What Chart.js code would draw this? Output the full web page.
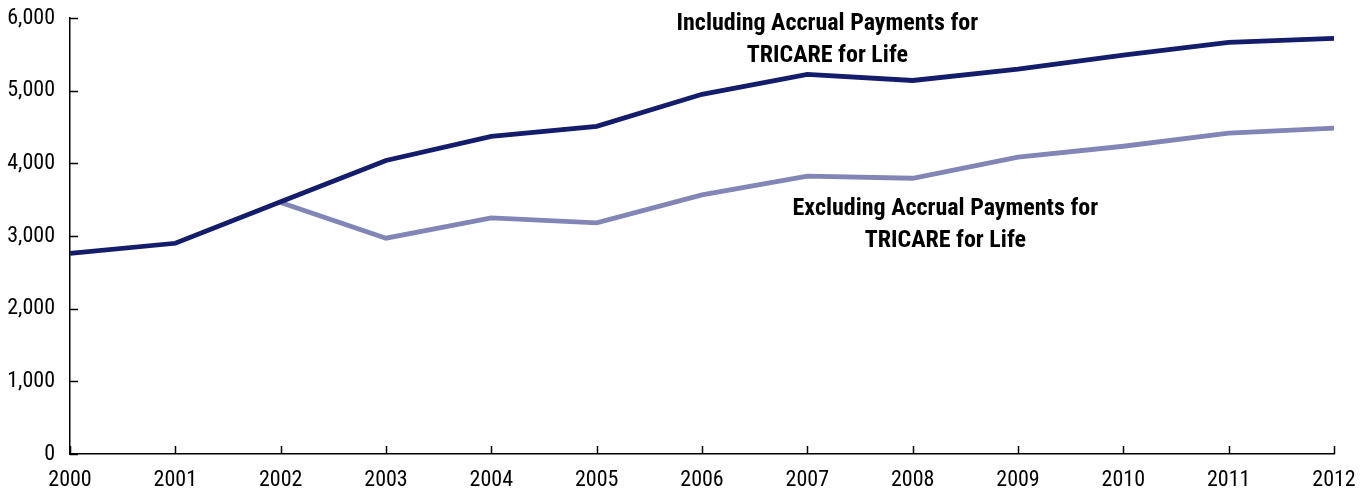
<!DOCTYPE html>
<html>
<head>
<meta charset="utf-8">
<script src="https://cdn.jsdelivr.net/npm/chart.js@4"></script>
<style>
html,body{margin:0;padding:0;background:#fff;}
#wrap{width:1369px;height:490px;position:relative;}
</style>
</head>
<body>
<div id="wrap"><canvas id="c"></canvas></div>
<script>
const years = ['2000','2001','2002','2003','2004','2005','2006','2007','2008','2009','2010','2011','2012'];
const including = [2760, 2900, 3470, 4040, 4370, 4510, 4950, 5225, 5140, 5295, 5490, 5665, 5720];
const excluding = [null, null, 3460, 2970, 3250, 3180, 3565, 3825, 3795, 4085, 4235, 4415, 4485];
const yTicks = [0, 1000, 2000, 3000, 4000, 5000, 6000];
const labelIncluding = ['Including Accrual Payments for', 'TRICARE for Life'];
const labelExcluding = ['Excluding Accrual Payments for', 'TRICARE for Life'];

const FONT = "'Roboto Condensed', 'DejaVu Sans Condensed', sans-serif";

const annot = {
  id: 'annot',
  afterDraw(chart) {
    const {ctx, scales: {x, y}} = chart;
    ctx.save();
    ctx.strokeStyle = '#000';
    ctx.lineWidth = 1.5;
    yTicks.forEach(v => {
      const py = Math.round(y.getPixelForValue(v)) + 0.5;
      ctx.beginPath(); ctx.moveTo(x.left, py); ctx.lineTo(x.left + 8, py); ctx.stroke();
    });
    years.forEach((yr, i) => {
      const px = Math.round(x.getPixelForValue(i)) + 0.5;
      ctx.beginPath(); ctx.moveTo(px, y.bottom); ctx.lineTo(px, y.bottom - 8); ctx.stroke();
    });
    ctx.fillStyle = '#000';
    ctx.font = "bold 24px " + FONT;
    ctx.textAlign = 'center';
    ctx.textBaseline = 'middle';
    const cx1 = x.getPixelForValue(7.19);
    ctx.fillText(labelIncluding[0], cx1, y.getPixelForValue(5915));
    ctx.fillText(labelIncluding[1], cx1, y.getPixelForValue(5475));
    const cx2 = x.getPixelForValue(8.31);
    ctx.fillText(labelExcluding[0], cx2, y.getPixelForValue(3370));
    ctx.fillText(labelExcluding[1], cx2, y.getPixelForValue(2930));
    ctx.restore();
  }
};

new Chart(document.getElementById('c'), {
  type: 'line',
  data: {
    labels: years,
    datasets: [
      { label: 'Excluding', data: excluding, borderColor: '#8186b6', borderWidth: 4.8, pointRadius: 0, tension: 0, order: 2 },
      { label: 'Including', data: including, borderColor: '#141c6c', borderWidth: 4.8, pointRadius: 0, tension: 0, order: 1 }
    ]
  },
  options: {
    responsive: true,
    maintainAspectRatio: false,
    animation: false,
    layout: { padding: { left: 0, right: 35, top: 18, bottom: 0 } },
    plugins: { legend: { display: false }, tooltip: { enabled: false } },
    scales: {
      x: {
        type: 'category',
        offset: false,
        grid: { display: false, drawTicks: false },
        border: { display: true, color: '#000', width: 1.5 },
        ticks: { color: '#000', font: { family: FONT, size: 22 }, padding: 13, maxRotation: 0, autoSkip: false },
        afterFit(s) { s.height = 36; s.paddingLeft = 0; s.paddingRight = 0; }
      },
      y: {
        min: 0, max: 6000,
        afterBuildTicks(s) { s.ticks = yTicks.map(v => ({ value: v })); },
        grid: { display: false, drawTicks: false },
        border: { display: true, color: '#000', width: 1.5 },
        ticks: { color: '#000', font: { family: FONT, size: 22 }, padding: 15,
          callback: v => v.toLocaleString('en-US') },
        afterFit(s) { s.width = 70; s.paddingTop = 0; s.paddingBottom = 0; }
      }
    }
  },
  plugins: [annot]
});
</script>
</body>
</html>
